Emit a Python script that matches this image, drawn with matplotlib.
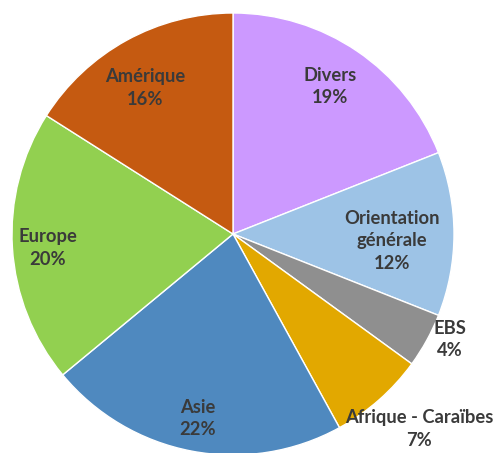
import matplotlib as mpl
mpl.use('Agg')

import matplotlib.pyplot as plt
import numpy as np

# Share by zone (%), clockwise from 12 o'clock
labels = ['Divers', 'Orientation\ngénérale', 'EBS', 'Afrique - Caraïbes',
          'Asie', 'Europe', 'Amérique']
shares = [19, 12, 4, 7, 22, 20, 16]

COLORS = ['#CC99FF', '#9DC3E6', '#8F8F8F', '#E2A800',
          '#4F89BF', '#92D050', '#C55A11']

# label placement: fraction of radius and angle nudge (deg) from wedge middle
label_r = [0.80, 0.72, 1.09, 1.22, 0.85, 0.84, 0.77]
label_dt = [0.8, -2.5, 2.8, 2.3, 0.0, 0.7, 2.2]

fig = plt.figure(figsize=(4.96, 4.53), dpi=100)
ax = fig.add_axes([0, 0, 1, 1])

R = 221.0
cx, cy = 233.0, 234.0
wedges, _ = ax.pie(shares, colors=COLORS, startangle=90, counterclock=False,
                   radius=1.0, wedgeprops=dict(edgecolor='white', linewidth=1.0))

ax.set_xlim(-cx / R, (496 - cx) / R)
ax.set_ylim((cy - 453) / R, cy / R)
ax.set_aspect('auto')
ax.axis('off')

for w, lab, s, r, dt in zip(wedges, labels, shares, label_r, label_dt):
    mid = np.deg2rad((w.theta1 + w.theta2) / 2 + dt)
    ax.text(r * np.cos(mid), r * np.sin(mid), '%s\n%d%%' % (lab, s),
            ha='center', va='center', fontsize=13.2, fontweight='bold',
            family=['Lato', 'DejaVu Sans'], color='#3A3A3A', linespacing=1.4)

fig.savefig('out.png', dpi=100)
